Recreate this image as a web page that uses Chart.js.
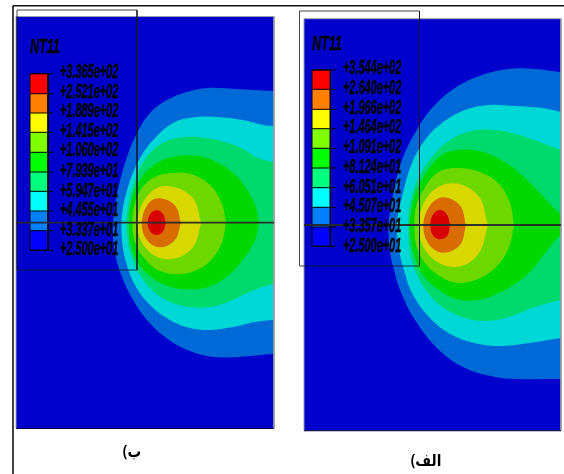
<!DOCTYPE html>
<html>
<head>
<meta charset="utf-8">
<title>NT11</title>
<script src="https://cdn.jsdelivr.net/npm/chart.js@4"></script>
<style>
  html, body { margin: 0; padding: 0; background: #fff; }
  #page { position: relative; width: 564px; height: 474px; overflow: hidden; }
  #page div { position: absolute; left: 0; top: 0; width: 564px; height: 474px; }
  canvas { filter: blur(0.35px); }
</style>
</head>
<body>
<div id="page">
  <div><canvas id="plotB" width="564" height="474"></canvas></div>
  <div><canvas id="plotA" width="564" height="474"></canvas></div>
</div>
<script>
// contour colours, outermost band first
const bandColors = ['#0069d8', '#00d8d8', '#00d96c', '#00d800', '#6cd800', '#d8d800', '#d86c00', '#d80000'];
const plateColor = '#0000cc';
const legendColors = ['#ff0000', '#ff7f00', '#ffff00', '#7fff00', '#00ff00', '#00ff7f', '#00ffff', '#007fff', '#0000ff'];

// panel ب
const plateBoxB = [16, 274, 16.5, 428.5];
const overlayBoxB = [17, 137, 10, 270];
const weldYB = 222.7;
const legendXB = [30, 48, 53];
const legendYB = [73.7, 93.7, 113, 132.3, 152.3, 172, 191.3, 211, 230.7, 250.3];
const tickLabelsB = ['+3.365e+02', '+2.521e+02', '+1.889e+02', '+1.415e+02', '+1.060e+02', '+7.939e+01', '+5.947e+01', '+4.455e+01', '+3.337e+01', '+2.500e+01'];
const contoursB = [
  [[300,91],[274,91],[235,89],[208,88],[187,92],[167,100],[150,113],[137,133],[127,157],[119,185],[114,213],[113,235],[116,258],[122,277],[132,298],[147,320],[165,337],[185,349],[207,356],[227,357.5],[250,356],[274,354],[300,354]],
  [[300,128],[274,126],[263,125],[243,120],[217,117],[197,117],[175,122],[155,138],[139,160],[128,187],[122,215],[122,240],[126,262],[135,285],[150,305],[170,320],[190,328],[210,330],[233,327],[255,322],[274,320],[300,319]],
  [[300,163],[274,162],[258,158],[243,149],[225,142],[205,138],[185,137],[167,141],[153,150],[141,166],[132,190],[127,215],[127,235],[131,255],[140,275],[153,291],[170,302],[190,307],[210,307],[228,302],[245,294],[260,288],[274,284],[300,280]],
  [[259,222.7],[255,205],[246,188],[232,172],[212,160],[190,155.3],[168,158],[150,168],[138,183],[131,203],[129,224],[131,245],[138,263],[151,277],[168,286],[190,289.5],[211,286],[230,274],[245,257],[255,240],[259,222.7]],
  [[226,222.7],[222,204],[212,187],[195,175.5],[175,172.7],[155,177],[142,188],[134.5,205],[132.5,224],[135,242],[144,258],[158,270],[177,274.3],[197,270],[212,259],[222,242],[226,222.7]],
  [[201.3,222.7],[192,197],[165,186],[146.5,197],[137.3,224],[146.5,249],[168,259.3],[192,248.5],[201.3,222.7]],
  [[181,222.7],[175,205.5],[158,198.3],[147,205.5],[141.7,224],[147,240],[160,247.3],[175,240],[181,222.7]],
  [[165.7,222.7],[163,214],[156.7,210.3],[150.3,214],[147.7,222.7],[150.3,231.4],[156.7,235],[163,231.4],[165.7,222.7]]
];

// panel الف
const plateBoxA = [304, 561, 18.7, 430.7];
const overlayBoxA = [299.5, 419.5, 11, 266];
const weldYA = 225;
const legendXA = [312, 330.3, 336];
const legendYA = [70, 89.3, 109.3, 128.7, 148.3, 168, 187.7, 207.3, 227, 246.3];
const tickLabelsA = ['+3.544e+02', '+2.640e+02', '+1.966e+02', '+1.464e+02', '+1.091e+02', '+8.124e+01', '+6.051e+01', '+4.507e+01', '+3.357e+01', '+2.500e+01'];
const contoursA = [
  [[590,73],[561,72],[535,69],[509,69],[482,75],[455,88],[432,108],[415,133],[402,160],[394,190],[389,220],[389,243],[391,258],[394,270],[400,290],[415,320],[439,350],[465,368],[495,377],[515,379],[561,379],[590,379]],
  [[590,118],[561,112],[542,108],[515,106],[489,105],[465,110],[442,123],[425,140],[412,163],[402,197],[397,223],[399,250],[404,270],[412,293],[429,317],[452,335],[479,344],[502,346],[529,343],[561,338],[590,334]],
  [[590,158],[561,150],[542,143],[519,135],[495,130],[472,131],[450,140],[432,157],[419,177],[411,200],[408,227],[410,252],[417,275],[428,293],[444,308],[465,318],[485,321],[509,317],[532,308],[561,300],[590,295]],
  [[580,225],[561,214],[553,207],[536,189],[516,170],[496,157],[478,151],[459,150],[442,155],[428,170],[417,190],[411,212],[410.5,235],[414,255],[423,275],[439,290],[458,299.5],[478,300],[497,294],[515,284],[530,272],[546,252],[561,235],[580,225]],
  [[514,225],[510,203],[499,184],[480,172],[456,168],[437,173],[424,189],[416,207],[414.5,228],[417,248],[425,263],[438,275],[456,282.7],[478,279],[497,266],[509,247],[514,225]],
  [[488,225],[478,195.5],[452,183.3],[428.5,195.5],[418.7,227],[429,255],[455,267],[478,254.5],[488,225]],
  [[466,225],[460,205.5],[443,197.3],[430,205.5],[423.3,225],[429,244.5],[443,252.7],[460,245],[466,225]],
  [[450,224.7],[447,214.5],[440,209.7],[433,214.5],[430.3,224.7],[433,235.5],[440,239.3],[447.5,235.5],[450,224.7]]
];

const fieldName = 'NT11';
const captionB = 'ب)';
const captionA = 'الف)';

function aPuntos(lista) {
  return lista.map(p => ({ x: p[0], y: p[1] }));
}

function rectangulo(x0, x1, y0, y1) {
  return [[x0, y0], [x1, y0], [x1, y1], [x0, y1], [x0, y0]];
}

function relleno(puntos, color, orden, tension) {
  return {
    data: aPuntos(puntos),
    showLine: true,
    fill: 'shape',
    backgroundColor: color,
    borderColor: color,
    borderWidth: 0,
    pointRadius: 0,
    tension: tension,
    order: orden
  };
}

function trazo(puntos, color, ancho, orden) {
  return {
    data: aPuntos(puntos),
    showLine: true,
    fill: false,
    borderColor: color,
    borderWidth: ancho,
    pointRadius: 0,
    tension: 0,
    clip: false,
    order: orden
  };
}

// plugin for the legend text, drawn at the positions of the chart's own scales
function textoPanel(cfg) {
  return {
    id: 'textoPanel',
    afterDatasetsDraw(chart) {
      const { ctx, scales } = chart;
      ctx.save();
      ctx.fillStyle = '#000';
      ctx.strokeStyle = '#000';
      ctx.lineWidth = 0.5;
      ctx.textBaseline = 'middle';
      ctx.font = 'italic bold 21px "Liberation Sans"';
      ctx.save();
      ctx.translate(scales.x.getPixelForValue(cfg.titleX), scales.y.getPixelForValue(cfg.titleY));
      ctx.scale(0.6, 1);
      ctx.fillText(fieldName, 0, 0);
      ctx.strokeText(fieldName, 0, 0);
      ctx.restore();
      ctx.font = 'italic bold 20px "Liberation Sans"';
      cfg.labels.forEach((t, i) => {
        ctx.save();
        ctx.translate(scales.x.getPixelForValue(cfg.labelX), scales.y.getPixelForValue(cfg.labelY[i]));
        ctx.scale(0.545, 1);
        ctx.fillText(t, 0, 0);
        ctx.strokeText(t, 0, 0);
        ctx.restore();
      });
      ctx.direction = 'rtl';
      ctx.textAlign = 'center';
      ctx.font = 'bold 16px "Noto Sans", "DejaVu Sans"';
      ctx.translate(scales.x.getPixelForValue(cfg.captionX), scales.y.getPixelForValue(cfg.captionY));
      ctx.scale(0.85, 1);
      ctx.fillText(cfg.caption, 0, 0);
      ctx.restore();
    }
  };
}

function panel(id, cfg) {
  const [x0, x1, y0, y1] = cfg.plate;
  const datasets = [relleno(rectangulo(x0, x1, y0, y1), plateColor, 100, 0)];
  cfg.contours.forEach((c, i) => {
    datasets.push(relleno(c, bandColors[i], 90 - i, 0.38));
  });
  cfg.legendColors.forEach((col, i) => {
    datasets.push(relleno(rectangulo(cfg.legendX[0], cfg.legendX[1], cfg.legendY[i], cfg.legendY[i + 1]), col, 50, 0));
  });
  cfg.legendY.forEach(y => {
    datasets.push(trazo([[cfg.legendX[0], y], [cfg.legendX[2], y]], '#000', 1, 40));
  });
  datasets.push(trazo(rectangulo(cfg.legendX[0], cfg.legendX[1], cfg.legendY[0], cfg.legendY[9]), '#000', 1, 39));
  datasets.push(trazo(rectangulo(x0, x1, y0, y1), '#9a9aa8', 1, 30));
  datasets.push(trazo([[x0, y1], [x1, y1]], '#000044', 1, 29));
  datasets.push(trazo(rectangulo(cfg.box[0], cfg.box[1], cfg.box[2], cfg.box[3]), 'rgba(20,20,40,0.8)', 1, 20));
  datasets.push(trazo([[x0, cfg.weld], [x1, cfg.weld]], 'rgba(40,40,40,0.95)', 1.8, 19));
  (cfg.frame || []).forEach(f => datasets.push(trazo(f, '#111', 1.6, 10)));

  return new Chart(document.getElementById(id), {
    type: 'scatter',
    data: { datasets },
    options: {
      responsive: false,
      animation: false,
      events: [],
      layout: { padding: { left: x0, right: 564 - x1, top: y0, bottom: 474 - y1 } },
      plugins: { legend: { display: false }, tooltip: { enabled: false }, title: { display: false } },
      scales: {
        x: { type: 'linear', display: false, min: x0, max: x1 },
        y: { type: 'linear', display: false, min: y0, max: y1, reverse: true }
      }
    },
    plugins: [textoPanel(cfg)]
  });
}

panel('plotB', {
  plate: plateBoxB, box: overlayBoxB, weld: weldYB, contours: contoursB,
  legendColors, legendX: legendXB, legendY: legendYB, labels: tickLabelsB,
  labelX: 60, labelY: [72.7, 92, 111.5, 131, 150.5, 171, 191, 210.5, 230, 249],
  titleX: 30, titleY: 47.7, caption: captionB, captionX: 132, captionY: 452,
  frame: [[[13, 5.7], [13, 474]], [[13, 5.7], [564, 5.7]]]
});

panel('plotA', {
  plate: plateBoxA, box: overlayBoxA, weld: weldYA, contours: contoursA,
  legendColors, legendX: legendXA, legendY: legendYA, labels: tickLabelsA,
  labelX: 343, labelY: [68, 88, 108, 127.5, 147.5, 167, 187, 206.5, 226, 246.7],
  titleX: 312, titleY: 44, caption: captionA, captionX: 426, captionY: 461
});
</script>
</body>
</html>
